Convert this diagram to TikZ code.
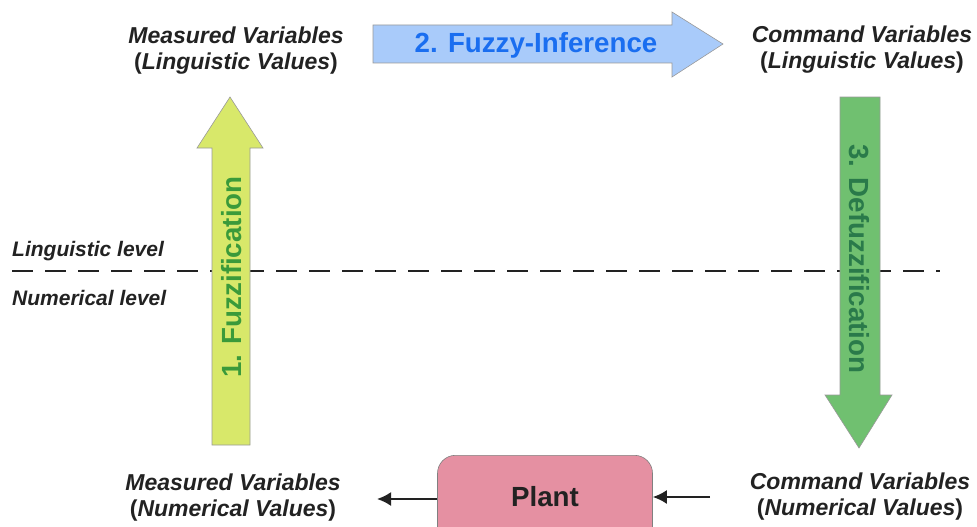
\documentclass[tikz,border=0pt]{standalone}
\usepackage{fontspec}
\setmainfont{Liberation Sans}
\usetikzlibrary{arrows.meta}
\definecolor{fuzzyfill}{HTML}{D8E86A}
\definecolor{fuzzytext}{HTML}{3A9A3A}
\definecolor{inffill}{HTML}{A9CBFA}
\definecolor{inftext}{HTML}{1A6EF0}
\definecolor{defill}{HTML}{70C070}
\definecolor{detext}{HTML}{2A7A4A}
\definecolor{plantfill}{HTML}{E590A2}
\definecolor{txt}{HTML}{222222}
\begin{document}
\begin{tikzpicture}[x=1pt,y=-1pt,
  lbl/.style={font=\fontsize{23}{26}\selectfont\bfseries, text=txt, align=center, inner sep=0pt},
  lvl/.style={font=\fontsize{21}{24}\selectfont\bfseries\itshape, text=txt, anchor=west, inner sep=0pt},
  bigarrow/.style={draw=gray!80, line width=0.6pt},
  arrtext/.style={font=\fontsize{27.7}{30}\selectfont\bfseries, inner sep=0pt},
  flow/.style={-{Latex[length=14pt,width=14pt]}, line width=2pt, txt}]
\useasboundingbox (0,0) rectangle (977,527);
% level line
\coordinate (dl) at (12,271);
\coordinate (dr) at (940,271);
\draw[txt, line width=2pt, dash pattern=on 21pt off 12pt] (dl) -- (dr);
\node[lvl] (ll) at (12,251) {Linguistic level};
\node[lvl] (nl) at (12,298) {Numerical level};
% arrow 1
\draw[bigarrow, fill=fuzzyfill] (212,445) -- (212,148) -- (197,148) -- (230,97) -- (263,148) -- (250,148) -- (250,445) -- cycle;
\node[arrtext, text=fuzzytext, rotate=90] (t1) at (232,277) {1. Fuzzification};
% arrow 2
\draw[bigarrow, fill=inffill] (373,25) -- (672,25) -- (672,12) -- (723,44) -- (672,77) -- (672,63) -- (373,63) -- cycle;
\node[arrtext, text=inftext] (t2) at (536,45) {2. Fuzzy-Inference};
% arrow 3
\draw[bigarrow, fill=defill] (840,97) -- (880,97) -- (880,395) -- (892,395) -- (859,448) -- (825,395) -- (840,395) -- cycle;
\node[arrtext, text=detext, rotate=-90] (t3) at (859,259) {3. Defuzzification};
% labels
\node[lbl] (mvl) at (236,51) {\itshape Measured Variables\\(\textit{Linguistic Values})};
\node[lbl] (cvl) at (862,50) {\itshape Command Variables\\(\textit{Linguistic Values})};
\node[lbl] (mvn) at (233,498) {\itshape Measured Variables\\(\textit{Numerical Values})};
\node[lbl] (cvn) at (860,497) {\itshape Command Variables\\(\textit{Numerical Values})};
% plant
\node[draw=gray, fill=plantfill, rounded corners=18pt, minimum width=215pt, minimum height=100pt, anchor=north, line width=0.6pt] (plant) at (545,455) {};
\node[font=\fontsize{27.7}{30}\selectfont\bfseries, text=txt] (pl) at (545,497) {Plant};
\coordinate (inR) at (710,497);
\coordinate (outL) at (377,499);
\draw[flow] (inR) -- (inR -| plant.east);
\draw[flow] (outL -| plant.west) -- (outL);
\end{tikzpicture}
\end{document}
